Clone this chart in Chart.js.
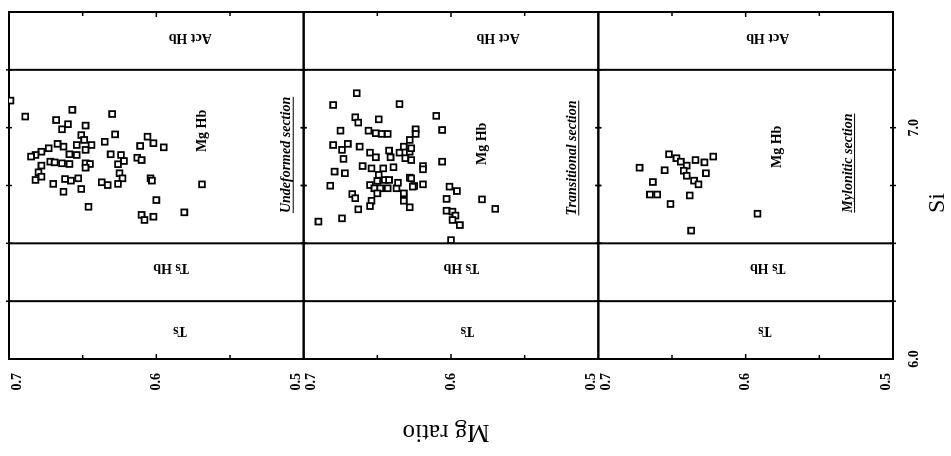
<!DOCTYPE html>
<html><head><meta charset="utf-8">
<script src="https://cdn.jsdelivr.net/npm/chart.js@4/dist/chart.umd.min.js"></script>
<style>
html,body{margin:0;padding:0;background:#fff;overflow:hidden;width:951px;height:456px;}
#wrap{position:absolute;left:0;top:0;width:456px;height:951px;transform-origin:0 0;transform:translateY(456px) rotate(-90deg);}
canvas{display:block;}
</style></head><body>
<div id="wrap"><canvas id="c" width="456" height="951"></canvas></div>
<script>
// ---- data (Si = x, Mg ratio = y) ----
const sectionNames = ['Undeformed section', 'Transitional section', 'Mylonitic section'];

const undeformedMg = [0.699,0.689,0.657,0.668,0.660,0.664,0.648,0.630,0.651,0.649,0.644,0.635,0.654,0.663,0.667,0.673,0.678,0.682,0.685,0.659,0.654,0.648,0.672,0.669,0.664,0.659,0.678,0.648,0.645,0.648,0.680,0.682,0.678,0.662,0.658,0.653,0.670,0.663,0.651,0.637,0.633,0.646,0.628,0.631,0.624,0.622,0.626,0.625,0.623,0.626,0.606,0.602,0.611,0.595,0.613,0.610,0.604,0.603,0.600,0.610,0.608,0.602,0.581,0.569];
const undeformedSi = [7.117,7.048,7.077,7.033,7.015,6.993,7.009,7.059,6.968,6.947,6.925,6.939,6.925,6.918,6.930,6.911,6.896,6.882,6.875,6.885,6.882,6.904,6.853,6.850,6.846,6.843,6.836,6.846,6.843,6.827,6.807,6.774,6.788,6.778,6.771,6.781,6.757,6.723,6.735,6.764,6.752,6.658,6.971,6.885,6.882,6.856,6.842,6.803,6.781,6.757,6.961,6.933,6.921,6.915,6.870,6.860,6.781,6.771,6.687,6.623,6.601,6.615,6.634,6.755];

const transitionalMg = [0.664,0.680,0.635,0.665,0.663,0.649,0.675,0.656,0.651,0.647,0.643,0.624,0.680,0.674,0.670,0.673,0.662,0.655,0.651,0.642,0.641,0.635,0.632,0.628,0.631,0.627,0.628,0.679,0.672,0.660,0.654,0.646,0.639,0.682,0.655,0.650,0.645,0.642,0.649,0.652,0.648,0.643,0.637,0.636,0.628,0.625,0.667,0.665,0.650,0.632,0.632,0.654,0.655,0.628,0.663,0.690,0.674,0.610,0.606,0.624,0.627,0.619,0.619,0.606,0.619,0.626,0.627,0.601,0.596,0.603,0.603,0.599,0.597,0.599,0.594,0.600,0.579,0.570];
const transitionalSi = [7.149,7.098,7.102,7.045,7.022,7.036,6.987,6.987,6.976,6.973,6.973,6.993,6.925,6.904,6.930,6.865,6.918,6.892,6.872,6.901,6.872,6.892,6.918,6.947,6.868,6.860,6.896,6.810,6.803,6.834,6.824,6.824,6.829,6.749,6.752,6.770,6.774,6.774,6.796,6.738,6.738,6.738,6.738,6.762,6.784,6.748,6.713,6.695,6.716,6.716,6.684,6.684,6.661,6.656,6.647,6.594,6.608,7.051,6.990,6.973,6.911,6.834,6.820,6.853,6.755,6.745,6.781,6.745,6.726,6.692,6.641,6.637,6.620,6.601,6.579,6.514,6.690,6.649];

const myloniticMg = [0.672,0.652,0.647,0.644,0.640,0.634,0.628,0.622,0.655,0.642,0.640,0.627,0.635,0.632,0.663,0.665,0.660,0.638,0.651,0.637,0.592];
const myloniticSi = [6.827,6.885,6.868,6.853,6.836,6.860,6.850,6.875,6.816,6.814,6.792,6.803,6.771,6.755,6.765,6.711,6.711,6.707,6.670,6.555,6.628];

// axes
const siRange = [6.0, 7.5];
const mgRange = [0.5, 0.7];
const siTickValues = [6.25, 6.5, 6.75, 7.0, 7.25];
const siTickLabels = [6.0, 7.0];
const mgTickValues = [0.65, 0.6, 0.55];
const mgTickLabels = [0.7, 0.6, 0.5];
const fieldBoundaries = [6.25, 6.5, 7.25];

// field names and where they sit (Si, Mg) in each panel
const fieldNames = ['Act Hb', 'Mg Hb', 'Ts Hb', 'Ts'];
const fieldSi = {'Act Hb':[7.39,7.39,7.39], 'Mg Hb':[6.986,6.93,6.917], 'Ts Hb':[6.393,6.393,6.393], 'Ts':[6.121,6.121,6.121]};
const fieldMg = {'Act Hb':[0.577,0.568,0.585], 'Mg Hb':[0.5685,0.5785,0.5786], 'Ts Hb':[0.590,0.593,0.585], 'Ts':[0.584,0.589,0.587]};
const sectionSi = [6.882, 6.869, 6.847];
const sectionMg = [0.5115, 0.5177, 0.5305];

const panelIds = ['yU', 'yT', 'yM'];
const mk = (si, mg) => si.map((s, i) => ({x: s, y: mg[i]}));

const pointStyle = {pointStyle:'rect', pointRadius:4.1, pointBorderWidth:1.8, pointBorderColor:'#000', pointBackgroundColor:'#fff', showLine:false};

const serif = "'Liberation Serif','Times New Roman',serif";

function line(ctx, x1, y1, x2, y2){ ctx.beginPath(); ctx.moveTo(x1,y1); ctx.lineTo(x2,y2); ctx.stroke(); }
function txt(ctx, s, x, y, font, rot, align){
  ctx.save(); ctx.translate(x, y); if (rot) ctx.rotate(rot);
  ctx.font = font; ctx.textAlign = align || 'center'; ctx.textBaseline = 'middle';
  ctx.fillStyle = '#000'; ctx.fillText(s, 0, 0); ctx.restore();
}

const framePlugin = {
  id: 'frame',
  beforeDatasetsDraw(chart){
    const ctx = chart.ctx, xs = chart.scales.x, a = chart.chartArea;
    ctx.save();
    ctx.strokeStyle = '#000'; ctx.lineWidth = 2;
    panelIds.forEach(id => { const s = chart.scales[id]; ctx.strokeRect(a.left, s.top, a.right - a.left, s.bottom - s.top); });
    fieldBoundaries.forEach(v => { const p = xs.getPixelForValue(v); line(ctx, p, a.top, p, a.bottom); });
    ctx.lineWidth = 1.5;
    panelIds.forEach(id => {
      const s = chart.scales[id];
      mgTickValues.forEach(v => { const p = s.getPixelForValue(v); const l = v === 0.6 ? 5 : 4; line(ctx, a.left, p, a.left + l, p); line(ctx, a.right - l, p, a.right, p); });
      siTickValues.forEach(v => { const p = xs.getPixelForValue(v); line(ctx, p, s.top - 3, p, s.top + 3); line(ctx, p, s.bottom - 3, p, s.bottom + 3); });
    });
    ctx.restore();
  },
  afterDatasetsDraw(chart){
    const ctx = chart.ctx, xs = chart.scales.x, a = chart.chartArea;
    const tickFont = 'bold 14px ' + serif;
    const fieldFont = 'bold 14px ' + serif;
    panelIds.forEach((id, k) => {
      const s = chart.scales[id];
      // Mg ratio tick labels
      const offs = [8, 0, -7];
      mgTickLabels.forEach((v, j) => txt(ctx, v.toFixed(1), a.left - 14, s.getPixelForValue(v) + offs[j], tickFont, 0, 'right'));
      // field names
      fieldNames.forEach(n => {
        const rot = n === 'Mg Hb' ? 0 : -Math.PI / 2;
        txt(ctx, n, xs.getPixelForValue(fieldSi[n][k]), s.getPixelForValue(fieldMg[n][k]), fieldFont, rot);
      });
      // section name, underlined
      const f = 'italic bold 14px ' + serif;
      const cx = xs.getPixelForValue(sectionSi[k]), cy = s.getPixelForValue(sectionMg[k]);
      txt(ctx, sectionNames[k], cx, cy, f, 0);
      ctx.save(); ctx.font = f; const w = ctx.measureText(sectionNames[k]).width;
      ctx.strokeStyle = '#000'; ctx.lineWidth = 1; line(ctx, cx - w/2, cy + 6.5, cx + w/2, cy + 6.5); ctx.restore();
    });
    // Si tick labels
    siTickLabels.forEach(v => txt(ctx, v.toFixed(1), xs.getPixelForValue(v), a.bottom + 21, tickFont, 0));
    // axis titles
    txt(ctx, 'Si', 253, a.bottom + 45, '24px ' + serif, 0);
    txt(ctx, 'Mg ratio', 24, (a.top + a.bottom) / 2 - 5, '25px ' + serif, -Math.PI / 2);
  }
};

const yScale = {type:'linear', min:mgRange[0], max:mgRange[1], display:false, position:'left', stack:'mg', stackWeight:1};

new Chart(document.getElementById('c'), {
  type: 'scatter',
  data: {
    datasets: [
      Object.assign({label: sectionNames[0], data: mk(undeformedSi, undeformedMg), yAxisID: 'yU'}, pointStyle),
      Object.assign({label: sectionNames[1], data: mk(transitionalSi, transitionalMg), yAxisID: 'yT'}, pointStyle),
      Object.assign({label: sectionNames[2], data: mk(myloniticSi, myloniticMg), yAxisID: 'yM'}, pointStyle)
    ]
  },
  options: {
    responsive: false, animation: false, devicePixelRatio: 1,
    layout: {padding: {left: 97, right: 12, top: 9, bottom: 58}},
    plugins: {legend: {display: false}, tooltip: {enabled: false}},
    scales: {
      x: {type:'linear', min:siRange[0], max:siRange[1], display:false},
      yM: Object.assign({}, yScale),
      yT: Object.assign({}, yScale),
      yU: Object.assign({}, yScale)
    }
  },
  plugins: [framePlugin]
});
</script>
</body></html>
